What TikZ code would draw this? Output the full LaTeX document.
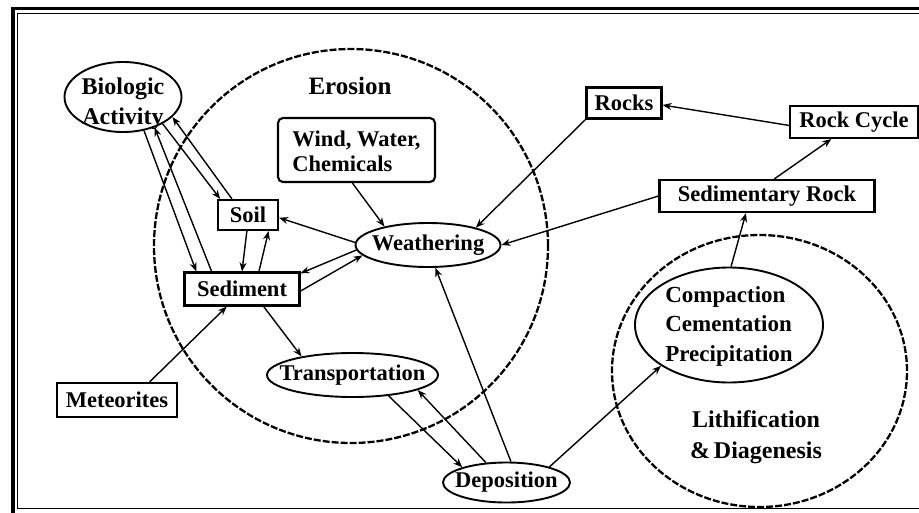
\documentclass[tikz,border=0pt]{standalone}
\usepackage{fontspec}
\setmainfont{Liberation Serif}
\usetikzlibrary{arrows.meta,shapes.geometric}
\newcommand{\ctrtext}[3][c]{\makebox[0pt]{\smash{\raisebox{#2}{\begin{tabular}{@{}#1@{}}#3\end{tabular}}}}}
\begin{document}
\begin{tikzpicture}[x=1pt,y=-1pt,
  every node/.style={font=\bfseries\fontsize{22.5}{25}\selectfont, inner sep=0pt, align=center},
  rbox/.style={draw, rectangle, line width=2.1pt},
  ell/.style={draw, ellipse, line width=1.9pt},
  region/.style={draw, ellipse, line width=2.3pt, dash pattern=on 7pt off 2pt},
  arr/.style={line width=1.4pt, -{Stealth[length=9pt,width=7pt]}},
  frameouter/.style={line width=3.6pt},
  frameinner/.style={line width=1pt}
]
\useasboundingbox (0,0) rectangle (919,512);
\clip (0,0) rectangle (919,512);
% frame
\draw[frameouter] (13,8.5) rectangle (935,525);
\draw[frameinner] (17.5,13.5) rectangle (930,508.5);
% regions
\node[region, minimum width=394pt, minimum height=394pt] (erosion) at (351,246) {};
\node[region, minimum width=295pt, minimum height=272pt] (lith) at (759.5,371) {};
\node[font=\bfseries\fontsize{25}{28}\selectfont] (erosiontxt) at (350,86) {Erosion};
\node[font=\bfseries\fontsize{24}{31}\selectfont] (lithtxt) at (756,437) {Lithification\\\&\,Diagenesis};
% nodes
\node[ell, minimum width=117pt, minimum height=70pt, font=\bfseries\fontsize{24}{30}\selectfont] (bio) at (123,97) {\ctrtext{-13pt}{Biologic\\Activity}};
\node[rbox, rounded corners=5pt, minimum width=157pt, minimum height=64pt, font=\bfseries\fontsize{22.5}{25}\selectfont] (wind) at (356.5,150) {\ctrtext[l]{-9pt}{Wind, Water,\\Chemicals}};
\node[rbox, minimum width=60pt, minimum height=30pt] (soil) at (248,215) {Soil};
\node[rbox, minimum width=115pt, minimum height=33pt] (sed) at (242,289) {Sediment};
\node[ell, minimum width=145pt, minimum height=44pt] (weath) at (428,245) {\makebox[0pt]{Weathering}};
\node[ell, minimum width=171pt, minimum height=44pt] (trans) at (352.5,375) {\makebox[0pt]{Transportation}};
\node[rbox, minimum width=120pt, minimum height=34pt] (met) at (117,400) {Meteorites};
\node[ell, minimum width=127pt, minimum height=40pt] (dep) at (506.5,482.5) {\makebox[0pt]{\raisebox{0pt}{Deposition}}};
\node[rbox, minimum width=75pt, minimum height=31pt] (rocks) at (624,103) {Rocks};
\node[rbox, minimum width=128pt, minimum height=32pt] (rc) at (854,122) {Rock Cycle};
\node[rbox, minimum width=215pt, minimum height=32pt] (sr) at (767,196) {Sedimentary Rock};
\node[ell, minimum width=188pt, minimum height=115pt, font=\bfseries\fontsize{23}{29.5}\selectfont] (comp) at (729,325) {\ctrtext[l]{-7pt}{Compaction\\Cementation\\Precipitation}};
% connectors
\draw[arr] (soil.135) -- (bio.-22);
\draw[arr] (bio.-34) -- (soil.150);
\draw[arr] (bio.-58) -- (sed.159);
\draw[arr] (sed.150) -- (bio.-44);
\draw[arr] (soil.-94) -- (sed.90);
\draw[arr] (sed.46) -- (soil.-38);
\draw[arr] (weath.178) -- (soil.-5);
\draw[arr] (weath.-176) -- (sed.15);
\draw[arr] (sed.-2) -- (weath.-171);
\draw[arr] (wind.-97) -- (weath.157);
\draw[arr] (rocks.south west) -- (weath.20);
\draw[arr] (sr.west) -- (weath.east);
\draw[arr] (rc.-177) -- (rocks.-3);
\draw[arr] (sr.67) -- (rc.-143);
\draw[arr] (comp.88) -- (sr.-141);
\draw[arr] (dep.20) -- (comp.-149);
\draw[arr] (dep.78) -- (weath.-72);
\draw[arr] (dep.136) -- (trans.-13);
\draw[arr] (trans.-30) -- (dep.161);
\draw[arr] (sed.-39.5) -- (trans.160);
\draw[arr] (met.29.5) -- (sed.-131);
\end{tikzpicture}
\end{document}
